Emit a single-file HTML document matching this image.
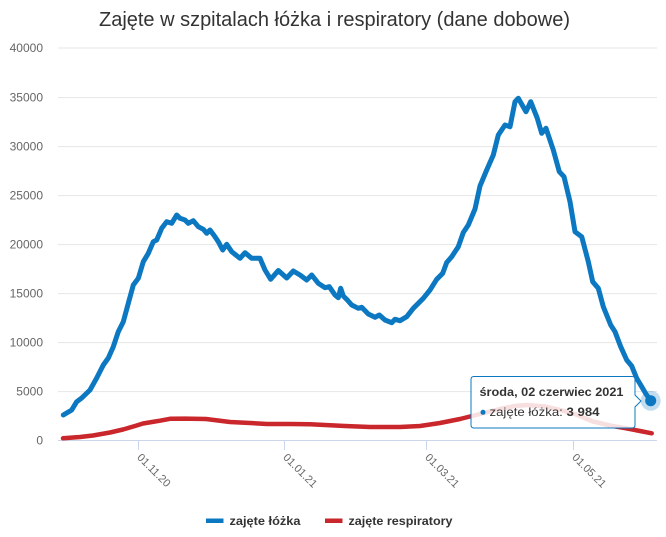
<!DOCTYPE html>
<html><head><meta charset="utf-8"><style>
html,body{margin:0;padding:0;background:#fff;}
svg{display:block;font-family:"Liberation Sans",Arial,sans-serif;}
</style></head><body>
<svg width="666" height="537" viewBox="0 0 666 537" xmlns="http://www.w3.org/2000/svg">
<rect width="666" height="537" fill="#fff"/>
<text x="99" y="26" font-size="20" fill="#333" textLength="471" lengthAdjust="spacingAndGlyphs">Zajęte w szpitalach łóżka i respiratory (dane dobowe)</text>
<g stroke="#e6e6e6" stroke-width="1">
<line x1="58" x2="657" y1="48.0" y2="48.0"/>
<line x1="58" x2="657" y1="97.6" y2="97.6"/>
<line x1="58" x2="657" y1="146.6" y2="146.6"/>
<line x1="58" x2="657" y1="195.6" y2="195.6"/>
<line x1="58" x2="657" y1="244.6" y2="244.6"/>
<line x1="58" x2="657" y1="293.6" y2="293.6"/>
<line x1="58" x2="657" y1="342.6" y2="342.6"/>
<line x1="58" x2="657" y1="391.6" y2="391.6"/>
</g>
<g font-size="12" fill="#666" text-anchor="end">
<text x="43" y="52">40000</text>
<text x="43" y="101.6">35000</text>
<text x="43" y="150.6">30000</text>
<text x="43" y="199.6">25000</text>
<text x="43" y="248.6">20000</text>
<text x="43" y="297.6">15000</text>
<text x="43" y="346.6">10000</text>
<text x="43" y="395.6">5000</text>
<text x="43" y="444.6">0</text>
</g>
<line x1="58" x2="657" y1="440.5" y2="440.5" stroke="#ccd6eb" stroke-width="1"/>
<g stroke="#ccd6eb" stroke-width="1">
<line x1="138.5" x2="138.5" y1="440" y2="450"/>
<line x1="284.5" x2="284.5" y1="440" y2="450"/>
<line x1="426.5" x2="426.5" y1="440" y2="450"/>
<line x1="573.5" x2="573.5" y1="440" y2="450"/>
</g>
<g font-size="11" fill="#666">
<text transform="translate(136.5,458) rotate(45)">01.11.20</text>
<text transform="translate(282.5,458) rotate(45)">01.01.21</text>
<text transform="translate(424.5,458) rotate(45)">01.03.21</text>
<text transform="translate(571.5,458) rotate(45)">01.05.21</text>
</g>
<polyline fill="none" stroke="#c9272b" stroke-width="4.5" stroke-linejoin="round" stroke-linecap="round" points="63,438.3 80,437 93,435.5 110,432.5 123,429.5 135,426 143,423.5 152,422 160,420.7 170,418.8 185,418.6 206,419 218,420.5 230,422 250,423 267,424 290,424 310,424.3 325,425 345,426 370,427 400,427 420,426 440,423 460,419 480,414 500,409 515,406 527,405 545,406.5 560,410 575,414 593,421.5 610,425.5 626,428.3 640,431 651.7,433.3"/>
<polyline fill="none" stroke="#0b78c1" stroke-width="5" stroke-linejoin="round" stroke-linecap="round" points="63.3,415 71.7,410 76.7,401.7 81.7,398 90,390 96.7,378 103.3,365 108.3,358 113.3,346.7 118.3,331.7 123.3,321.7 128.3,303.3 133.3,285 138.3,278.3 143.3,261.7 148.3,253.3 153.3,241.7 156.7,240 161.7,228.3 166.7,221.7 171.7,223.3 176.7,215 180,218.3 185,220 188.3,223.3 193.3,220.7 198.3,226.7 203.3,229.3 206.7,233.3 210,230 215,236.7 218.3,241.7 222.7,250 226.7,244.3 231.7,251.7 240,258.3 245,252.7 251.7,258.3 260,258.3 265,270 270.7,279.3 278.3,270.5 286.7,278 293.3,271 300,275 306.7,280 311.7,275 318.3,283.3 325,287.7 329.3,286.7 335,295 338.3,297.7 340.7,288.3 343.3,296 347.3,300 351.7,305 358.3,308.3 361.7,307.3 368.3,314 375,317.3 379.3,315 385,320 391.7,322.7 395,319.3 400,320.7 406.7,316.7 413.3,308.3 423.3,298.3 430,290 436.7,279.3 442.7,273.3 446.7,262.5 451.7,256.7 458.3,246.7 463.3,232.5 468.3,225 475,209 480,186 486.7,170 493.3,155 498.3,135 505,125 510,126.7 515,101.7 518.3,98.3 526,111.7 530.7,101.7 537.3,118.3 541.7,133.3 546,128.3 553.3,150 559.3,171.7 564,176.7 570,201.7 575,231.7 581.7,236.7 588.3,261.7 592.7,281.7 598.3,288.3 603.3,306.7 610.7,325 615,331.7 620.7,346.7 626.7,360 631.7,366 636.7,378.3 641.7,386.7 646,394 650.7,400.7"/>
<circle cx="650.7" cy="400.7" r="10" fill="#0b78c1" fill-opacity="0.25"/>
<circle cx="650.7" cy="400.7" r="5.5" fill="#0b78c1"/>
<path d="M474,376.5 H632 Q635,376.5 635,379.5 V395 L641,401 L635,407 V425 Q635,428 632,428 H474 Q471,428 471,425 V379.5 Q471,376.5 474,376.5 Z" fill="#ffffff" fill-opacity="0.85" stroke="#0b78c1" stroke-width="1"/>
<text x="479.5" y="396" font-size="12" font-weight="bold" fill="#333" textLength="144" lengthAdjust="spacingAndGlyphs">środa, 02 czerwiec 2021</text>
<circle cx="483" cy="412.3" r="2.5" fill="#0b78c1"/>
<text x="489.5" y="416" font-size="12" fill="#333" textLength="110" lengthAdjust="spacingAndGlyphs">zajęte łóżka: <tspan font-weight="bold">3 984</tspan></text>
<line x1="206" x2="223.5" y1="520.7" y2="520.7" stroke="#0b78c1" stroke-width="4.5"/>
<text x="229.5" y="525" font-size="12" font-weight="bold" fill="#333" textLength="71" lengthAdjust="spacingAndGlyphs">zajęte łóżka</text>
<line x1="325" x2="342.5" y1="520.7" y2="520.7" stroke="#c9272b" stroke-width="4.5"/>
<text x="348.5" y="525" font-size="12" font-weight="bold" fill="#333" textLength="104" lengthAdjust="spacingAndGlyphs">zajęte respiratory</text>
</svg>
</body></html>
